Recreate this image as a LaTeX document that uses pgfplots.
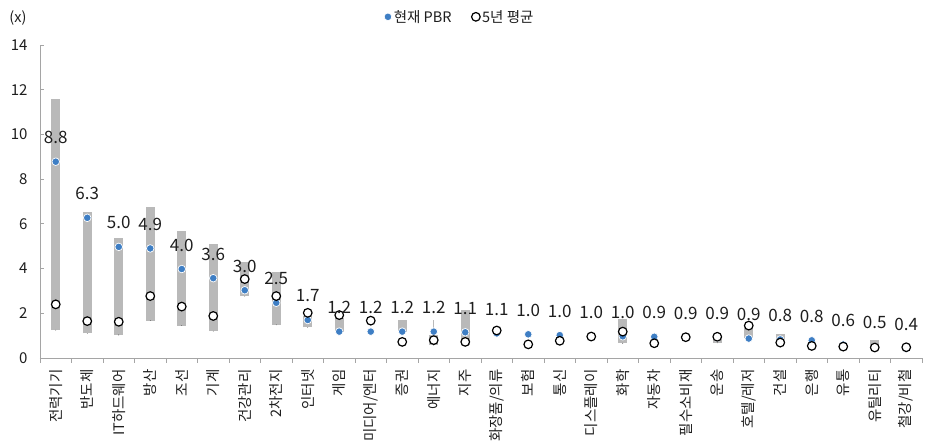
\documentclass[border=0pt]{standalone}
\usepackage{fontspec}
\setmainfont{Noto Sans CJK KR}
\usepackage{pgfplots}
\usepackage{pgfplotstable}
\pgfplotsset{compat=1.18}
\definecolor{pbrblue}{RGB}{62,126,196}
\definecolor{rangegrey}{RGB}{185,185,185}
\definecolor{axisgrey}{RGB}{165,165,165}
\definecolor{txt}{RGB}{30,30,30}

% min-max range bars
\pgfplotstableread{
x lo hi
0 1.25 11.60
1 1.10 6.55
2 1.03 5.35
3 1.67 6.75
4 1.45 5.68
5 1.20 5.10
6 2.77 4.30
7 1.48 3.86
8 1.37 1.90
9 1.15 1.80
11 1.15 1.68
12 0.58 1.05
13 0.58 2.15
18 0.66 1.73
21 0.68 0.90
22 0.90 1.40
23 0.70 1.06
26 0.45 0.80
}\rangedata

% current PBR, 5-year average, label
\pgfplotstableread{
x cur avg lab
0 8.78 2.40 8.8
1 6.27 1.65 6.3
2 4.97 1.62 5.0
3 4.90 2.77 4.9
4 3.98 2.30 4.0
5 3.57 1.88 3.6
6 3.03 3.53 3.0
7 2.47 2.77 2.5
8 1.70 2.02 1.7
9 1.18 1.92 1.2
10 1.18 1.67 1.2
11 1.18 0.72 1.2
12 1.18 0.80 1.2
13 1.15 0.72 1.1
14 1.10 1.23 1.1
15 1.06 0.61 1.0
16 1.02 0.77 1.0
17 0.97 0.96 1.0
18 0.97 1.18 1.0
19 0.95 0.66 0.9
20 0.92 0.93 0.9
21 0.90 0.95 0.9
22 0.87 1.45 0.9
23 0.83 0.69 0.8
24 0.79 0.54 0.8
25 0.60 0.51 0.6
26 0.50 0.47 0.5
27 0.42 0.48 0.4
}\pointdata

\begin{document}
\begin{tikzpicture}[x=1pt,y=1pt]
\useasboundingbox (0,0) rectangle (934,441);
\clip (0,0) rectangle (934,441);
\node[font=\fontsize{14.5}{14}\selectfont, text=txt] at (18,423) {(x)};
\begin{axis}[
  at={(40pt,83pt)}, anchor=south west,
  scale only axis, width=882pt, height=313pt,
  xmin=-0.5, xmax=27.5, ymin=0, ymax=14,
  axis lines*=left,
  axis line style={axisgrey, line width=0.8pt},
  ytick={0,2,...,14},
  xtick={0,...,27},
  xticklabels={전력기기,반도체,IT하드웨어,방산,조선,기계,건강관리,2차전지,인터넷,게임,미디어/엔터,증권,에너지,지주,화장품/의류,보험,통신,디스플레이,화학,자동차,필수소비재,운송,호텔/레저,건설,은행,유통,유틸리티,철강/비철},
  minor xtick={-0.5,0.5,...,27.5},
  major tick length=4pt,
  minor tick length=5pt,
  major x tick style={draw=none},
  minor x tick style={axisgrey, line width=0.8pt, yshift=-5pt},
  major y tick style={axisgrey, line width=0.8pt},
  xticklabel style={rotate=90, anchor=east, font=\fontsize{14.5}{14}\selectfont, text=txt},
  xticklabel shift=8pt,
  yticklabel style={font=\fontsize{15}{15}\selectfont, text=txt},
  yticklabel shift=9pt,
  /pgf/number format/assume math mode=true,
  clip=false,
  legend style={draw=none, fill=none, at={(0.476,1.09)}, anchor=center,
    font=\fontsize{14.5}{14}\selectfont, text=txt,
    /tikz/every even column/.append style={column sep=18pt}},
  legend columns=2,
  legend image code/.code={\draw[#1] plot coordinates {(0pt,0pt)};},
]
% range bars
\addplot[forget plot, only marks, mark=*, mark size=0.01pt, mark options={draw=none, fill=none},
  error bars/.cd, y dir=plus, y explicit, error mark=none,
  error bar style={line width=9pt, rangegrey}]
  table[x=x, y=lo, y error expr=\thisrow{hi}-\thisrow{lo}] {\rangedata};
\addplot[forget plot, rangegrey, line width=1.2pt] coordinates {(12,1.05) (12,1.70)};
% current PBR
\addplot[only marks, mark=*, mark size=3.8pt, mark options={fill=pbrblue, draw=white, line width=0.7pt}]
  table[x=x, y=cur] {\pointdata};
\addlegendentry{현재 PBR}
% 5y average
\addplot[only marks, mark=*, mark size=4.3pt, mark options={fill=white, draw=black, line width=1.2pt}]
  table[x=x, y=avg] {\pointdata};
\addlegendentry{5년 평균}
% value labels
\addplot[forget plot, draw=none, mark=none, nodes near coords,
  point meta=explicit symbolic,
  nodes near coords style={anchor=center, yshift=24pt, font=\fontsize{17}{17}\selectfont, text=txt}]
  table[x=x, y=cur, meta=lab] {\pointdata};
\end{axis}
\end{tikzpicture}
\end{document}
